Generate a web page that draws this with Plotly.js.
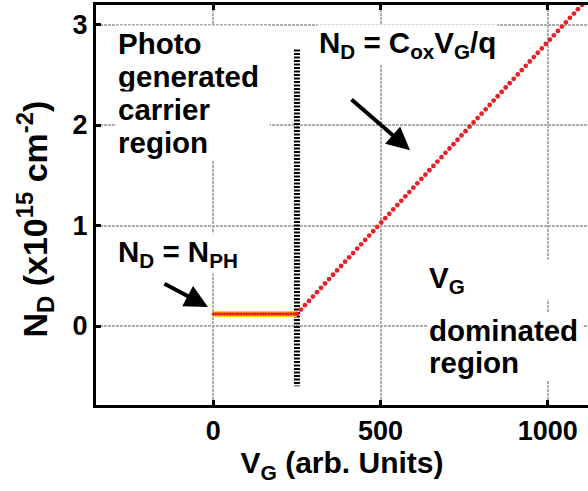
<!DOCTYPE html>
<html>
<head>
<meta charset="utf-8">
<script src="https://cdn.plot.ly/plotly-3.0.1.min.js"></script>
<style>
  html, body { margin: 0; padding: 0; background: #ffffff; }
  #chart { width: 588px; height: 491px; }
</style>
</head>
<body>
<div id="chart"></div>
<script>
// Photo-generated plateau: N_D = N_PH for gate voltages below the threshold
const plateauVg = [0, 8, 17, 25, 33, 42, 50, 58, 67, 75, 83, 92, 100, 108, 117, 125,
  133, 142, 150, 158, 167, 175, 183, 192, 200, 208, 217, 225, 233, 242, 250];
const plateauNd = [0.12, 0.12, 0.12, 0.12, 0.12, 0.12, 0.12, 0.12, 0.12, 0.12, 0.12,
  0.12, 0.12, 0.12, 0.12, 0.12, 0.12, 0.12, 0.12, 0.12, 0.12, 0.12, 0.12, 0.12, 0.12,
  0.12, 0.12, 0.12, 0.12, 0.12, 0.12];

// Gate-dominated regime: N_D = C_ox V_G / q
const rampVg = [250, 262, 274, 286, 298, 310, 322, 334, 346, 358, 370, 382, 394, 406,
  418, 430, 442, 454, 466, 478, 490, 502, 514, 526, 538, 550, 562, 574, 586, 598, 610,
  622, 634, 646, 658, 670, 682, 694, 706, 718, 730, 742, 754, 766, 778, 790, 802, 814,
  826, 838, 850, 862, 874, 886, 898, 910, 922, 934, 946, 958, 970, 982, 994, 1006, 1018,
  1030, 1042, 1054, 1066, 1078, 1090, 1102, 1114];
const rampNd = [0.120, 0.163, 0.207, 0.250, 0.293, 0.337, 0.380, 0.423, 0.467, 0.510,
  0.553, 0.597, 0.640, 0.683, 0.726, 0.770, 0.813, 0.856, 0.900, 0.943, 0.986, 1.030,
  1.073, 1.116, 1.160, 1.203, 1.246, 1.290, 1.333, 1.376, 1.420, 1.463, 1.506, 1.550,
  1.593, 1.636, 1.680, 1.723, 1.766, 1.809, 1.853, 1.896, 1.939, 1.983, 2.026, 2.069,
  2.113, 2.156, 2.199, 2.243, 2.286, 2.329, 2.373, 2.416, 2.459, 2.503, 2.546, 2.589,
  2.632, 2.676, 2.719, 2.762, 2.806, 2.849, 2.892, 2.936, 2.979, 3.022, 3.066, 3.109,
  3.152, 3.196, 3.239];

// Threshold marker between the two regimes
const thresholdVg = [250, 250];
const thresholdNd = [2.75, -0.6];

const xTicks = [0, 500, 1000];
const xTickText = ['0', '500', '1000'];
const yTicks = [0, 1, 2, 3];
const yTickText = ['0', '1', '2', '3'];

const xTitle = 'V<sub>G</sub> (arb. Units)';
const yTitle = 'N<sub>D</sub> (x10<sup>15</sup> cm<sup>-2</sup>)';

const FONT = 'Liberation Sans, Arial, sans-serif';
const LABEL_SIZE = 29.5;

const traces = [
  {
    x: thresholdVg, y: thresholdNd, mode: 'lines', hoverinfo: 'skip',
    line: { color: '#000000', width: 6, dash: '2px,1.5px' }
  },
  {
    x: plateauVg, y: plateauNd, mode: 'lines+markers',
    line: { color: '#ffd200', width: 6 },
    marker: { color: '#e8202a', size: 3.6 }
  },
  {
    x: rampVg, y: rampNd, mode: 'markers',
    marker: { color: '#e8202a', size: 4.8 }
  }
];

function label(text, x, y) {
  return {
    text: '<b>' + text + '</b>', x: x, y: y, xref: 'x', yref: 'y',
    xanchor: 'left', yanchor: 'middle', align: 'left', showarrow: false,
    bgcolor: '#ffffff', borderpad: 1,
    font: { family: FONT, size: LABEL_SIZE, color: '#000000' }
  };
}
function blockLine(text, x, y, w) {
  const a = label(text, x, y);
  a.width = w;
  return a;
}
function arrow(x, y, ax, ay) {
  return {
    text: '', x: x, y: y, xref: 'x', yref: 'y', ax: ax, ay: ay,
    showarrow: true, arrowhead: 2, arrowsize: 1.15, arrowwidth: 4,
    arrowcolor: '#000000'
  };
}

const annotations = [
  blockLine('Photo', -292, 2.81, 150),
  blockLine('generated', -292, 2.48, 150),
  blockLine('carrier', -292, 2.15, 150),
  blockLine('region', -292, 1.83, 150),
  label('N<sub>D</sub> = C<sub>ox</sub>V<sub>G</sub>/q', 310, 2.80),
  label('N<sub>D</sub> = N<sub>PH</sub>', -292, 0.72),
  blockLine('V<sub>G</sub>', 640, 0.46, 152),
  blockLine('dominated', 640, -0.04, 152),
  blockLine('region', 640, -0.36, 152),
  arrow(588, 1.75, -60, -52),
  arrow(-16, 0.19, -45, -24),
  // vertical axis title, set slightly below the middle of the axis
  {
    text: '<b>' + yTitle + '</b>', xref: 'paper', yref: 'paper',
    x: -0.125, y: 0.465, xanchor: 'center', yanchor: 'middle',
    textangle: -90, showarrow: false,
    font: { family: FONT, size: 34, color: '#000000' }
  }
];

const axisCommon = {
  showline: true, linecolor: '#000000', linewidth: 3,
  ticks: 'inside', ticklen: 5, tickwidth: 3, tickcolor: '#000000',
  showgrid: true, gridcolor: '#aeaeae', gridwidth: 2, griddash: '2.5px,1.5px',
  zeroline: false,
  tickfont: { family: FONT, size: 27, color: '#000000', weight: 'bold' }
};

const layout = {
  width: 588, height: 491,
  margin: { l: 96, r: 0, t: 5, b: 86 },
  paper_bgcolor: '#ffffff', plot_bgcolor: '#ffffff',
  showlegend: false,
  font: { family: FONT, color: '#000000', weight: 'bold' },
  xaxis: Object.assign({}, axisCommon, {
    range: [-350.6, 1120], mirror: 'ticks',
    tickvals: xTicks, ticktext: xTickText,
    title: { text: '<b>' + xTitle + '</b>', standoff: 4,
      font: { family: FONT, size: 30, color: '#000000' } }
  }),
  yaxis: Object.assign({}, axisCommon, {
    range: [-0.786, 3.194],
    tickvals: yTicks, ticktext: yTickText
  }),
  annotations: annotations
};

Plotly.newPlot('chart', traces, layout, { displayModeBar: false, staticPlot: true });
</script>
</body>
</html>
